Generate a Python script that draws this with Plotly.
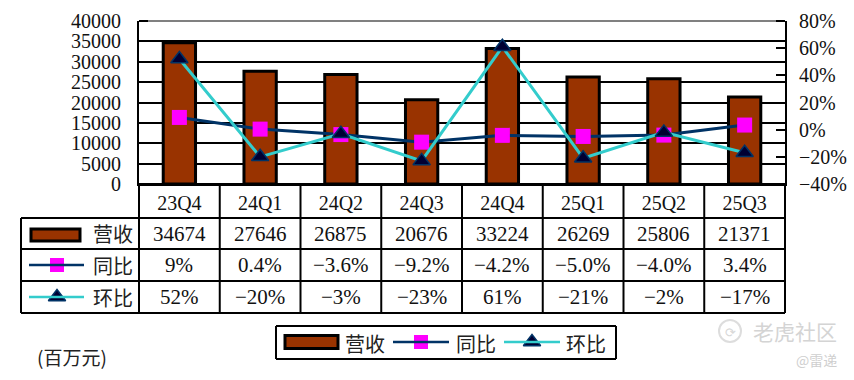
import plotly.graph_objects as go

# ---- data ----
quarters = ["23Q4", "24Q1", "24Q2", "24Q3", "24Q4", "25Q1", "25Q2", "25Q3"]
revenue = [34674, 27646, 26875, 20676, 33224, 26269, 25806, 21371]
yoy = [9, 0.4, -3.6, -9.2, -4.2, -5.0, -4.0, 3.4]
qoq = [52, -20, -3, -23, 61, -21, -2, -17]
yoy_labels = ["9%", "0.4%", "−3.6%", "−9.2%", "−4.2%", "−5.0%", "−4.0%", "3.4%"]
qoq_labels = ["52%", "−20%", "−3%", "−23%", "61%", "−21%", "−2%", "−17%"]
series_names = ["营收", "同比", "环比"]
unit_label = "(百万元)"

# ---- style / layout constants (page pixels) ----
W, H = 854, 380
PX0, PX1, PY0, PY1 = 139, 785, 21, 184
TABLE_LEFT = 21
ROW_Y = [218, 249, 281, 313]
BAR, BARLINE = "#993300", "#000000"
NAVY, TEAL, MAGENTA, TRI = "#003366", "#33CCCC", "#FF00FF", "#000033"
FONT = "'Liberation Serif','Noto Serif CJK SC','Noto Sans CJK SC',serif"
CJK = "'Noto Sans CJK SC',sans-serif"
BLACK = "#000000"

fig = go.Figure()
fig.add_trace(go.Bar(x=quarters, y=revenue, name=series_names[0], yaxis="y", xaxis="x",
                     marker=dict(color=BAR, line=dict(color=BARLINE, width=3))))
fig.add_trace(go.Scatter(x=quarters, y=yoy, name=series_names[1], yaxis="y2", xaxis="x",
                         mode="lines+markers", line=dict(color=NAVY, width=3),
                         marker=dict(symbol="square", size=15, color=MAGENTA)))
fig.add_trace(go.Scatter(x=quarters, y=qoq, name=series_names[2], yaxis="y2", xaxis="x",
                         mode="lines+markers", line=dict(color=TEAL, width=3),
                         marker=dict(symbol="triangle-up", size=15, color=TRI,
                                     line=dict(color=NAVY, width=1.5))))

shapes, annots = [], []
def hline(x0, x1, y, color=BLACK, w=2):
    shapes.append(dict(type="line", xref="x3", yref="y3", x0=x0, x1=x1, y0=y, y1=y,
                       line=dict(color=color, width=w)))
def vline(x, y0, y1, color=BLACK, w=2):
    shapes.append(dict(type="line", xref="x3", yref="y3", x0=x, x1=x, y0=y0, y1=y1,
                       line=dict(color=color, width=w)))
def text(x, y, s, size=20, color="#111111", family=FONT, anchor="center"):
    annots.append(dict(xref="x3", yref="y3", x=x, y=y, text=s, showarrow=False, xanchor=anchor,
                       yanchor="middle", font=dict(size=size, color=color, family=family)))

# top gridline is grey, with black tick stubs at both ends
hline(PX0 + 9, PX1 - 9, PY0, "#808080")
hline(PX0, PX0 + 9, PY0)
hline(PX1 - 9, PX1, PY0)

# data table
n = len(quarters)
col = (PX1 - PX0) / n
for y in ROW_Y:
    hline(TABLE_LEFT, PX1, y)
hline(PX0, PX1, PY1)
vline(TABLE_LEFT, ROW_Y[0], ROW_Y[-1])
for i in range(n + 1):
    vline(PX0 + i * col, PY1, ROW_Y[-1])

rows = [[str(v) for v in revenue], yoy_labels, qoq_labels]
for r, row in enumerate(rows):
    yc = (ROW_Y[r] + ROW_Y[r + 1]) / 2
    for i, s in enumerate(row):
        text(PX0 + (i + .5) * col, yc, s, size=21)
    text(113, yc, series_names[r], size=20, family=CJK, color="#222222")

# keys: table and legend box
def bar_key(x0, x1, yc, h):
    shapes.append(dict(type="rect", xref="x3", yref="y3", x0=x0, x1=x1, y0=yc - h / 2, y1=yc + h / 2,
                       fillcolor=BAR, line=dict(color=BLACK, width=3)))
def line_key(x0, x1, yc, color):
    hline(x0, x1, yc, color, 2.5)

kx, ky_m, kx_t, ky_t = [], [], [], []
bar_key(31, 80, 235, 12)
line_key(29, 84, 265, NAVY); kx.append(57); ky_m.append(265)
line_key(29, 84, 297, TEAL); kx_t.append(57); ky_t.append(297)

# legend box
hline(276, 616, 326); hline(276, 616, 359); vline(276, 326, 359); vline(616, 326, 359)
bar_key(285, 338, 342, 13)
text(365, 343, series_names[0], family=CJK, color="#222222")
line_key(393, 449, 342, NAVY); kx.append(421); ky_m.append(342)
text(476, 343, series_names[1], family=CJK, color="#222222")
line_key(504, 560, 342, TEAL); kx_t.append(532); ky_t.append(342)
text(586, 343, series_names[2], family=CJK, color="#222222")

fig.add_trace(go.Scatter(x=kx, y=ky_m, xaxis="x3", yaxis="y3", mode="markers", showlegend=False,
                         hoverinfo="skip", marker=dict(symbol="square", size=14, color=MAGENTA)))
fig.add_trace(go.Scatter(x=kx_t, y=ky_t, xaxis="x3", yaxis="y3", mode="markers", showlegend=False,
                         hoverinfo="skip", marker=dict(symbol="triangle-up", size=15, color=TRI,
                                                       line=dict(color=NAVY, width=1.5))))

text(72, 356, unit_label, size=19, family=CJK, color="#222222")

# watermark
shapes.append(dict(type="circle", xref="x3", yref="y3", x0=719, x1=741, y0=320, y1=342,
                   line=dict(color="#DDDDDD", width=2)))
text(730, 331, "⟳", size=13, color="#D8D8D8", family=CJK)
text(795, 331, "老虎社区", size=21, color="#D4D4D4", family=CJK)
text(816, 360, "@雷递", size=14, color="#CFCFCF", family=CJK)

fig.update_layout(
    template="none",
    width=W, height=H, autosize=False, margin=dict(l=0, r=0, t=0, b=0, pad=0),
    paper_bgcolor="white", plot_bgcolor="rgba(0,0,0,0)", showlegend=False, bargap=0.6,
    font=dict(family=FONT, size=20, color="#111111"),
    shapes=shapes, annotations=annots,
    xaxis=dict(domain=[PX0 / W, PX1 / W], anchor="y", type="category", showgrid=False,
               showline=True, linecolor=BLACK, linewidth=2, ticks="",
               tickfont=dict(size=20, family=FONT), automargin=False,
               range=[-0.5, n - 0.5], zeroline=False),
    yaxis=dict(domain=[1 - PY1 / H, 1 - PY0 / H], anchor="x", range=[0, 40000], dtick=5000,
               tickformat="d", automargin=False,
               showgrid=True, gridcolor=BLACK, gridwidth=2, zeroline=False,
               showline=True, linecolor=BLACK, linewidth=2, ticks="inside", ticklen=9,
               tickcolor=BLACK, tickwidth=2, ticklabelstandoff=12, tickfont=dict(size=20, family=FONT)),
    yaxis2=dict(domain=[1 - PY1 / H, 1 - PY0 / H], anchor="x", overlaying="y", side="right",
                range=[-40, 80], dtick=20, ticksuffix="%", showgrid=False, zeroline=False, automargin=False,
                showline=True, linecolor=BLACK, linewidth=2, ticks="inside", ticklen=9,
                tickcolor=BLACK, tickwidth=2, ticklabelstandoff=8, tickfont=dict(size=20, family=FONT)),
    xaxis3=dict(domain=[0, 1], range=[0, W], anchor="y3", visible=False, fixedrange=True, automargin=False),
    yaxis3=dict(domain=[0, 1], range=[H, 0], anchor="x3", visible=False, fixedrange=True, automargin=False),
)
fig.write_html("out.html", config=dict(displayModeBar=False),
               post_script="document.body.style.margin='0';document.documentElement.style.overflow='hidden';")
